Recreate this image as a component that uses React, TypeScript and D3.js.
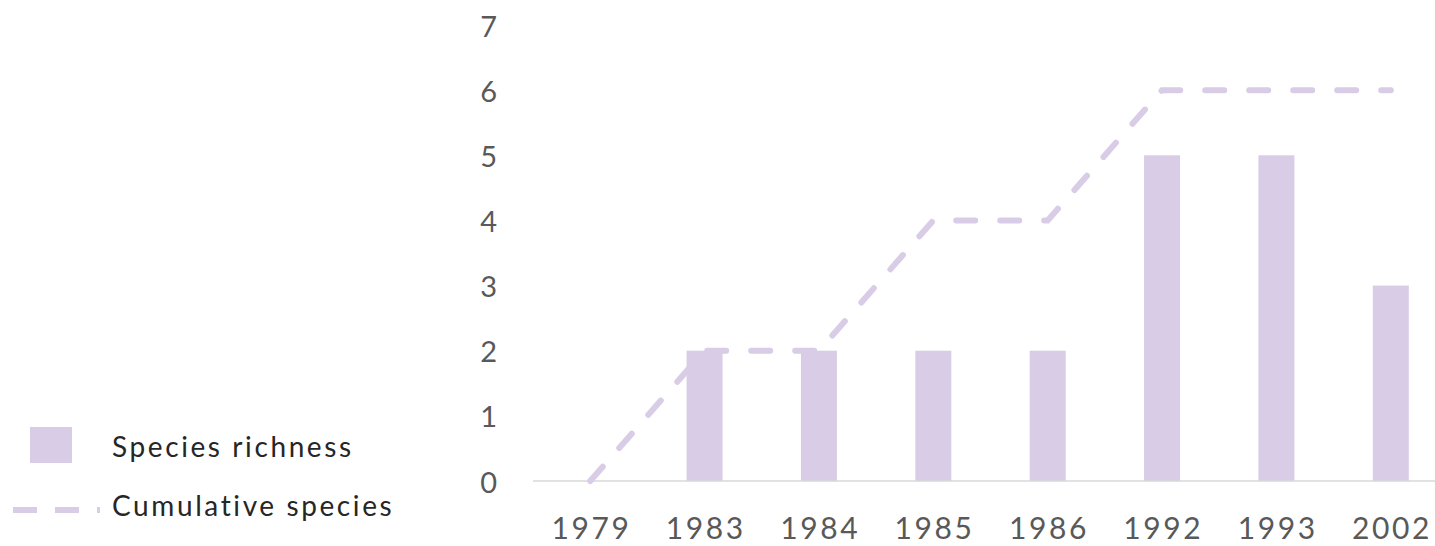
import React from 'react';
import * as d3 from 'd3';

// chart data
const years = ['1979', '1983', '1984', '1985', '1986', '1992', '1993', '2002'];
const richness = [0, 2, 2, 2, 2, 5, 5, 3];
const cumulative = [0, 2, 2, 4, 4, 6, 6, 6];
const yTicks = [0, 1, 2, 3, 4, 5, 6, 7];
const legendLabels = ['Species richness', 'Cumulative species'];

const W = 1435, H = 546;
const purple = '#d9cce6';
const font = 'Lato, "Open Sans", sans-serif';

export default function App() {
  const x = d3.scalePoint<string>().domain(years).range([533, 1448]).padding(0.5);
  const y = d3.scaleLinear().domain([0, 7]).range([481, 25]);
  const barW = 36;
  const xls = 2.6;

  const line = d3.line<number>()
    .x((d, i) => x(years[i]) as number)
    .y(d => y(d));

  return (
    <svg width={W} height={H} style={{ position: 'absolute', left: 0, top: 0 }} fontFamily={font}>
      {/* y labels */}
      {yTicks.map(t => (
        <text key={t} x={497} y={y(t)} textAnchor="end" dominantBaseline="central"
          fontSize={29} fill="#595959">{t}</text>
      ))}
      {/* bars */}
      {richness.map((v, i) => (
        <rect key={years[i]} x={(x(years[i]) as number) - barW / 2} y={y(v)}
          width={barW} height={y(0) - y(v)} fill={purple} />
      ))}
      {/* baseline */}
      <line x1={533} x2={W} y1={y(0)} y2={y(0)} stroke="#d9d9d9" strokeWidth={1.5} />
      {/* cumulative line */}
      <path d={line(cumulative) || ''} fill="none" stroke={purple} strokeWidth={6}
        strokeDasharray="19 25" strokeLinecap="round" />
      {/* x labels */}
      {years.map(yr => (
        <text key={yr} x={(x(yr) as number) + xls / 2} y={527} textAnchor="middle" dominantBaseline="central"
          fontSize={30} letterSpacing={xls} fill="#595959">{yr}</text>
      ))}
      {/* legend */}
      <rect x={30} y={427} width={42} height={36} fill={purple} />
      <text x={112} y={446} dominantBaseline="central" fontSize={28} letterSpacing={2.6}
        fill="#262626">{legendLabels[0]}</text>
      <line x1={13} x2={100} y1={510} y2={510} stroke={purple} strokeWidth={6}
        strokeDasharray="24 18" strokeLinecap="butt" />
      <text x={112} y={505} dominantBaseline="central" fontSize={28} letterSpacing={2.6}
        fill="#262626">{legendLabels[1]}</text>
    </svg>
  );
}
